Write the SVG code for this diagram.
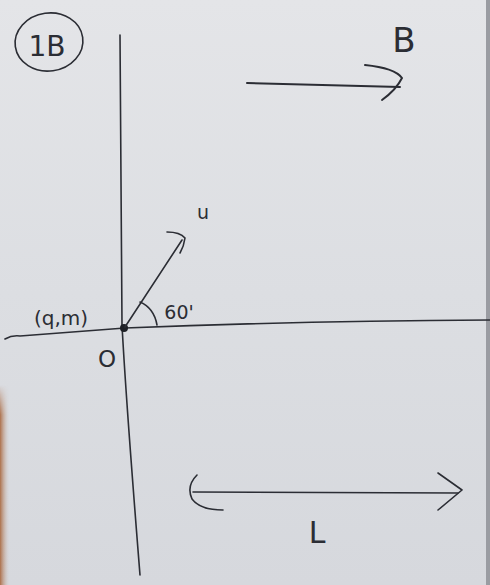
<svg xmlns="http://www.w3.org/2000/svg" width="490" height="585" viewBox="0 0 490 585">
<defs>
<linearGradient id="paper" x1="0" y1="0" x2="0" y2="1">
<stop offset="0" stop-color="#e4e5e8"/>
<stop offset="0.5" stop-color="#dcdee2"/>
<stop offset="1" stop-color="#d6d8dd"/>
</linearGradient>
<linearGradient id="edgeL" x1="0" y1="0" x2="1" y2="0">
<stop offset="0" stop-color="#a8643a" stop-opacity="0.9"/>
<stop offset="1" stop-color="#c9b8ad" stop-opacity="0"/>
</linearGradient>
<linearGradient id="edgeFade" x1="0" y1="0" x2="0" y2="1">
<stop offset="0" stop-color="#fff" stop-opacity="0"/>
<stop offset="0.15" stop-color="#fff" stop-opacity="1"/>
<stop offset="1" stop-color="#fff" stop-opacity="1"/>
</linearGradient>
<mask id="fadeMask"><rect x="0" y="385" width="10" height="200" fill="url(#edgeFade)"/></mask>
</defs>
<style>
.ink{fill:none;stroke:#2b2d34;stroke-width:2;stroke-linecap:round;stroke-linejoin:round}
.thin{stroke-width:1.6}
.t{font-family:"DejaVu Sans","Liberation Sans",sans-serif;fill:#2b2d34}
</style>
<rect width="490" height="585" fill="url(#paper)"/>
<rect x="0" y="385" width="9" height="200" fill="url(#edgeL)" mask="url(#fadeMask)"/>
<rect x="486" y="0" width="4" height="585" fill="#9a9ca2"/>
<g id="label-1B">
<ellipse cx="49" cy="42" rx="34" ry="29" class="ink thin" transform="rotate(-8 49 42)"/>
<text x="47" y="56" class="t" font-size="28" text-anchor="middle">1B</text>
</g>
<g id="axes">
<path class="ink thin" d="M120 35 Q121 180 122 325 Q126 400 140 575"/>
<path class="ink thin" d="M5 339 Q12 335 20 336 L125 328 Q300 321 490 320"/>
<circle cx="124" cy="328" r="4" fill="#1e2026"/>
<text x="107" y="367" class="t" font-size="23" text-anchor="middle">O</text>
<text x="61" y="325" class="t" font-size="20" text-anchor="middle">(q,m)</text>
</g>
<g id="velocity-u">
<path class="ink thin" d="M125 327 L182 240"/>
<path class="ink thin" d="M167 232 Q180 232 185 238 Q184 246 180 253"/>
<path class="ink thin" d="M140 302 Q154 308 157 325"/>
<text x="179" y="319" class="t" font-size="19" text-anchor="middle">60'</text>
<text x="203" y="219" class="t" font-size="19" text-anchor="middle">u</text>
</g>
<g id="field-B">
<path class="ink" d="M247 83 Q320 85 400 87"/>
<path class="ink" d="M365 65 Q395 68 402 78 Q396 90 382 100"/>
<text x="404" y="52" class="t" font-size="34" text-anchor="middle">B</text>
</g>
<g id="length-L">
<path class="ink thin" d="M193 492 L458 493"/>
<path class="ink thin" d="M197 475 Q186 486 192 499 Q200 510 223 510"/>
<path class="ink thin" d="M438 473 L462 490 L438 510"/>
<text x="317" y="543" class="t" font-size="30" text-anchor="middle">L</text>
</g>
</svg>
